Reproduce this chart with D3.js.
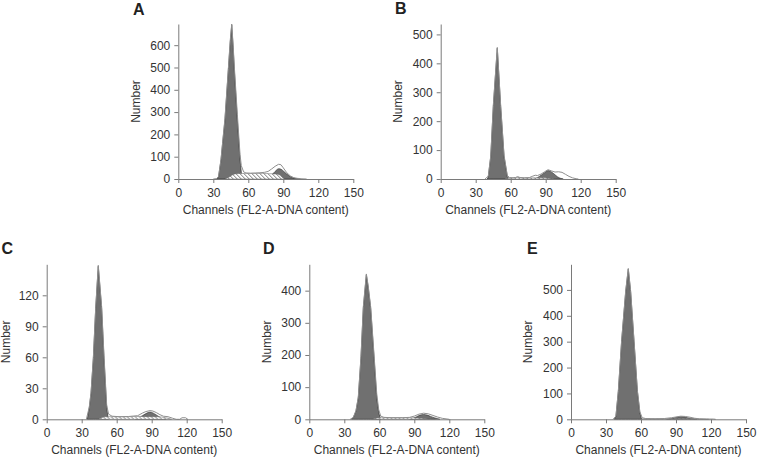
<!DOCTYPE html>
<html>
<head>
<meta charset="utf-8">
<script src="https://cdn.jsdelivr.net/npm/d3@7"></script>
<style>
  body { margin: 0; background: #fff; }
  svg { display: block; font-family: "Liberation Sans", Arial, sans-serif; }
</style>
</head>
<body>
<svg id="chart" width="757" height="460"></svg>
<script>
// x axis ticks shared by all panels
const xTicks = [0, 30, 60, 90, 120, 150];

// [channel, number] pairs
// A
const g1A = [[33,0],[34.5,10],[36.6,85],[38,160],[40,264],[41.5,380],[42.9,489],[44.5,610],[45.8,690],[47,590],[48,489],[50.6,264],[52.9,85],[54,30],[55.5,0]];
const sA = [[40,0],[44,10],[47,20],[50,24],[56,25],[64,25],[72,25],[78,24],[84,22],[87,18],[89,8],[91,0]];
const g2A = [[74,0],[77,6],[80,18],[83,34],[86,46],[88,44],[90,36],[93,22],[96,11],[99,4],[102,1],[104,0]];
const traceA = [[30,0],[33,2],[34.5,12],[36.6,88],[38,165],[40,272],[42.9,495],[44.5,620],[45.8,695],[47,600],[48,505],[50.6,290],[52.9,110],[54,60],[56,32],[58,27],[62,26],[66,27],[70,28],[74,30],[77,34],[80,45],[83,57],[86,66],[88,64],[90,50],[93,28],[96,14],[99,6],[102,3],[106,1],[110,0]];
// B
const g1B = [[40,0],[40.8,8],[42.9,77],[45.1,250],[48.5,452],[51.4,250],[54.3,77],[57.1,8],[59,0]];
const sB = [[55,0],[58,3],[62,4],[66,6],[70,4],[76,4],[82,4],[88,4],[92,3],[96,1],[99,0]];
const g2B = [[80,0],[83,5],[86,13],[89,22],[92,29],[94,27],[97,18],[100,8],[103,2],[105,0]];
const traceB = [[38,0],[40.8,10],[42.9,80],[45.1,255],[48.5,455],[51.4,255],[54.3,82],[57.1,12],[59,5],[62,4],[64,5],[66,8],[68,5],[72,4],[76,5],[79,10],[81,13],[83,12],[86,17],[89,25],[92,32],[95,28],[98,24],[101,25],[104,23],[107,16],[110,9],[113,4],[116,1],[118,0]];
// C
const g1C = [[34.8,0],[36.5,11],[38,25],[40,59],[42,107],[44.2,148],[47.1,107],[49.1,59],[51.4,11],[52.8,0]];
const sC = [[44,0],[47,1.5],[50,2.5],[60,2.5],[70,2.5],[80,2.8],[88,2.5],[95,2.5],[100,2],[104,1],[107,0]];
const g2C = [[76,0],[79,1.5],[82,3.5],[85,5.5],[88.6,7],[91,6.2],[94,4.2],[97,2],[100,0.7],[102,0]];
const traceC = [[34,0],[36.5,12],[38,26],[40,60],[42,108],[44.2,149],[47.1,109],[49.1,62],[51.4,14],[53,5],[56,3],[62,2.5],[70,2.7],[78,3.5],[82,6],[85,7.5],[88.6,8.4],[91,8],[94,6.5],[97,4.5],[100,3],[104,2.5],[108,1],[111,0],[114,0],[116,1.5],[119,1.5],[121,0]];
// D
const g1D = [[36.3,0],[37.7,5],[40,25],[42,66],[44.3,190],[46.3,345],[48.9,449],[50.5,410],[52.6,345],[55.5,190],[57.8,66],[59.5,20],[61.2,0]];
const sD = [[54,0],[58,4],[62,5],[70,5],[80,5],[88,5],[92,4],[96,3],[100,2],[104,1],[108,0]];
const g2D = [[86,0],[89,3],[92,8],[95,13],[98,15],[101,13],[104,9],[107,5],[110,2],[112,0]];
const traceD = [[35,0],[37.7,6],[40,27],[42,70],[44.3,195],[46.3,350],[48.9,452],[50.5,415],[52.6,350],[55.5,200],[57.8,80],[59.5,30],[61.2,10],[64,6],[70,5],[80,5],[86,6],[90,10],[94,16],[98,19],[102,17],[106,12],[110,7],[114,3],[118,1],[120,0]];
// E
const g1E = [[37,0],[38.5,10],[40.6,108],[43.4,301],[46.9,493],[49.1,580],[51.1,493],[54,301],[56.9,108],[59,25],[60.5,0]];
const sE = [[58,0],[62,2],[70,2],[80,2],[90,2],[100,2],[110,1],[118,0]];
const g2E = [[82,0],[86,3],[90,7],[94,10],[97,9],[100,6],[103,3],[106,1],[108,0]];
const traceE = [[36,0],[38.5,12],[40.6,112],[43.4,305],[46.9,497],[49.1,583],[51.1,497],[54,305],[56.9,112],[59,30],[61,6],[64,3],[72,2],[80,3],[86,6],[90,9],[94,12],[98,11],[102,8],[106,4],[110,2],[116,1],[122,1],[124,0]];

// y axis ranges and ticks per panel
const yMaxes = { A: 695, B: 536, C: 150, D: 482, E: 599 };
const yTicksA = [0, 100, 200, 300, 400, 500, 600];
const yTicksB = [0, 100, 200, 300, 400, 500];
const yTicksC = [0, 30, 60, 90, 120];
const yTicksD = [0, 100, 200, 300, 400];
const yTicksE = [0, 100, 200, 300, 400, 500];

const panels = [
  { label: "A", ox: 178.3, oy: 24,    lx: 133, ly: 14.5, ny: -43, yTicks: yTicksA, g1: g1A, s: sA, g2: g2A, trace: traceA },
  { label: "B", ox: 440.7, oy: 24,    lx: 395, ly: 14,   ny: -43, yTicks: yTicksB, g1: g1B, s: sB, g2: g2B, trace: traceB },
  { label: "C", ox: 46.7,  oy: 264.3, lx: 1.5, ly: 253.5, ny: -41, yTicks: yTicksC, g1: g1C, s: sC, g2: g2C, trace: traceC },
  { label: "D", ox: 309.3, oy: 264.3, lx: 263, ly: 253.5, ny: -43, yTicks: yTicksD, g1: g1D, s: sD, g2: g2D, trace: traceD },
  { label: "E", ox: 571,   oy: 264.3, lx: 527, ly: 253.5, ny: -43, yTicks: yTicksE, g1: g1E, s: sE, g2: g2E, trace: traceE }
];

const width = 175, height = 155;
const svg = d3.select("#chart");

// hatch pattern for the S phase
const pat = svg.append("defs").append("pattern")
  .attr("id", "hatch")
  .attr("patternUnits", "userSpaceOnUse")
  .attr("width", 4).attr("height", 4);
pat.append("rect").attr("width", 4).attr("height", 4).attr("fill", "#fff");
pat.append("path")
  .attr("d", "M0,0L4,4M-1,3L1,5M3,-1L5,1")
  .attr("stroke", "#555").attr("stroke-width", 0.8);

panels.forEach(p => {
  const g = svg.append("g").attr("transform", `translate(${p.ox},${p.oy})`);

  const x = d3.scaleLinear().domain([0, 150]).range([0, width]);
  const y = d3.scaleLinear().domain([0, yMaxes[p.label]]).range([height, 0]);

  const areaLin = d3.area().x(d => x(d[0])).y0(height).y1(d => y(d[1]));
  const areaSmooth = d3.area().x(d => x(d[0])).y0(height).y1(d => y(d[1])).curve(d3.curveMonotoneX);

  // G0/G1 peak
  g.append("path").datum(p.g1)
    .attr("fill", "#707070").attr("stroke", "#2f2f2f").attr("stroke-width", 0.7)
    .attr("d", areaLin);
  // G2 peak
  g.append("path").datum(p.g2)
    .attr("fill", "#707070").attr("stroke", "#2f2f2f").attr("stroke-width", 0.6)
    .attr("d", areaSmooth);
  // S phase
  g.append("path").datum(p.s)
    .attr("fill", "url(#hatch)").attr("stroke", "#666").attr("stroke-width", 0.5)
    .attr("d", areaSmooth);
  // raw histogram trace
  g.append("path").datum(p.trace)
    .attr("fill", "none").attr("stroke", "#8f8f8f").attr("stroke-width", 1)
    .attr("d", d3.line().x(d => x(d[0])).y(d => y(d[1])));

  // axes
  const xAxis = g.append("g")
    .attr("transform", `translate(0,${height})`)
    .call(d3.axisBottom(x).tickValues(xTicks).tickSize(4).tickSizeOuter(0).tickPadding(5));
  const yAxis = g.append("g")
    .call(d3.axisLeft(y).tickValues(p.yTicks).tickSize(4).tickSizeOuter(0).tickPadding(4));
  [xAxis, yAxis].forEach(a => {
    a.selectAll("path, line").attr("stroke", "#7a7a7a");
    a.selectAll("text").attr("fill", "#333").attr("font-size", 12)
      .attr("font-family", "Liberation Sans, Arial, sans-serif");
  });

  g.append("text")
    .attr("x", width / 2).attr("y", height + 35)
    .attr("text-anchor", "middle")
    .attr("font-size", 12).attr("fill", "#333")
    .text("Channels (FL2-A-DNA content)");

  g.append("text")
    .attr("transform", `translate(${p.ny},${height / 2}) rotate(-90)`)
    .attr("text-anchor", "middle").attr("dy", "0.35em")
    .attr("font-size", 12).attr("fill", "#333")
    .text("Number");

  svg.append("text")
    .attr("x", p.lx).attr("y", p.ly)
    .attr("font-size", 16).attr("font-weight", "bold").attr("fill", "#222")
    .text(p.label);
});
</script>
</body>
</html>
